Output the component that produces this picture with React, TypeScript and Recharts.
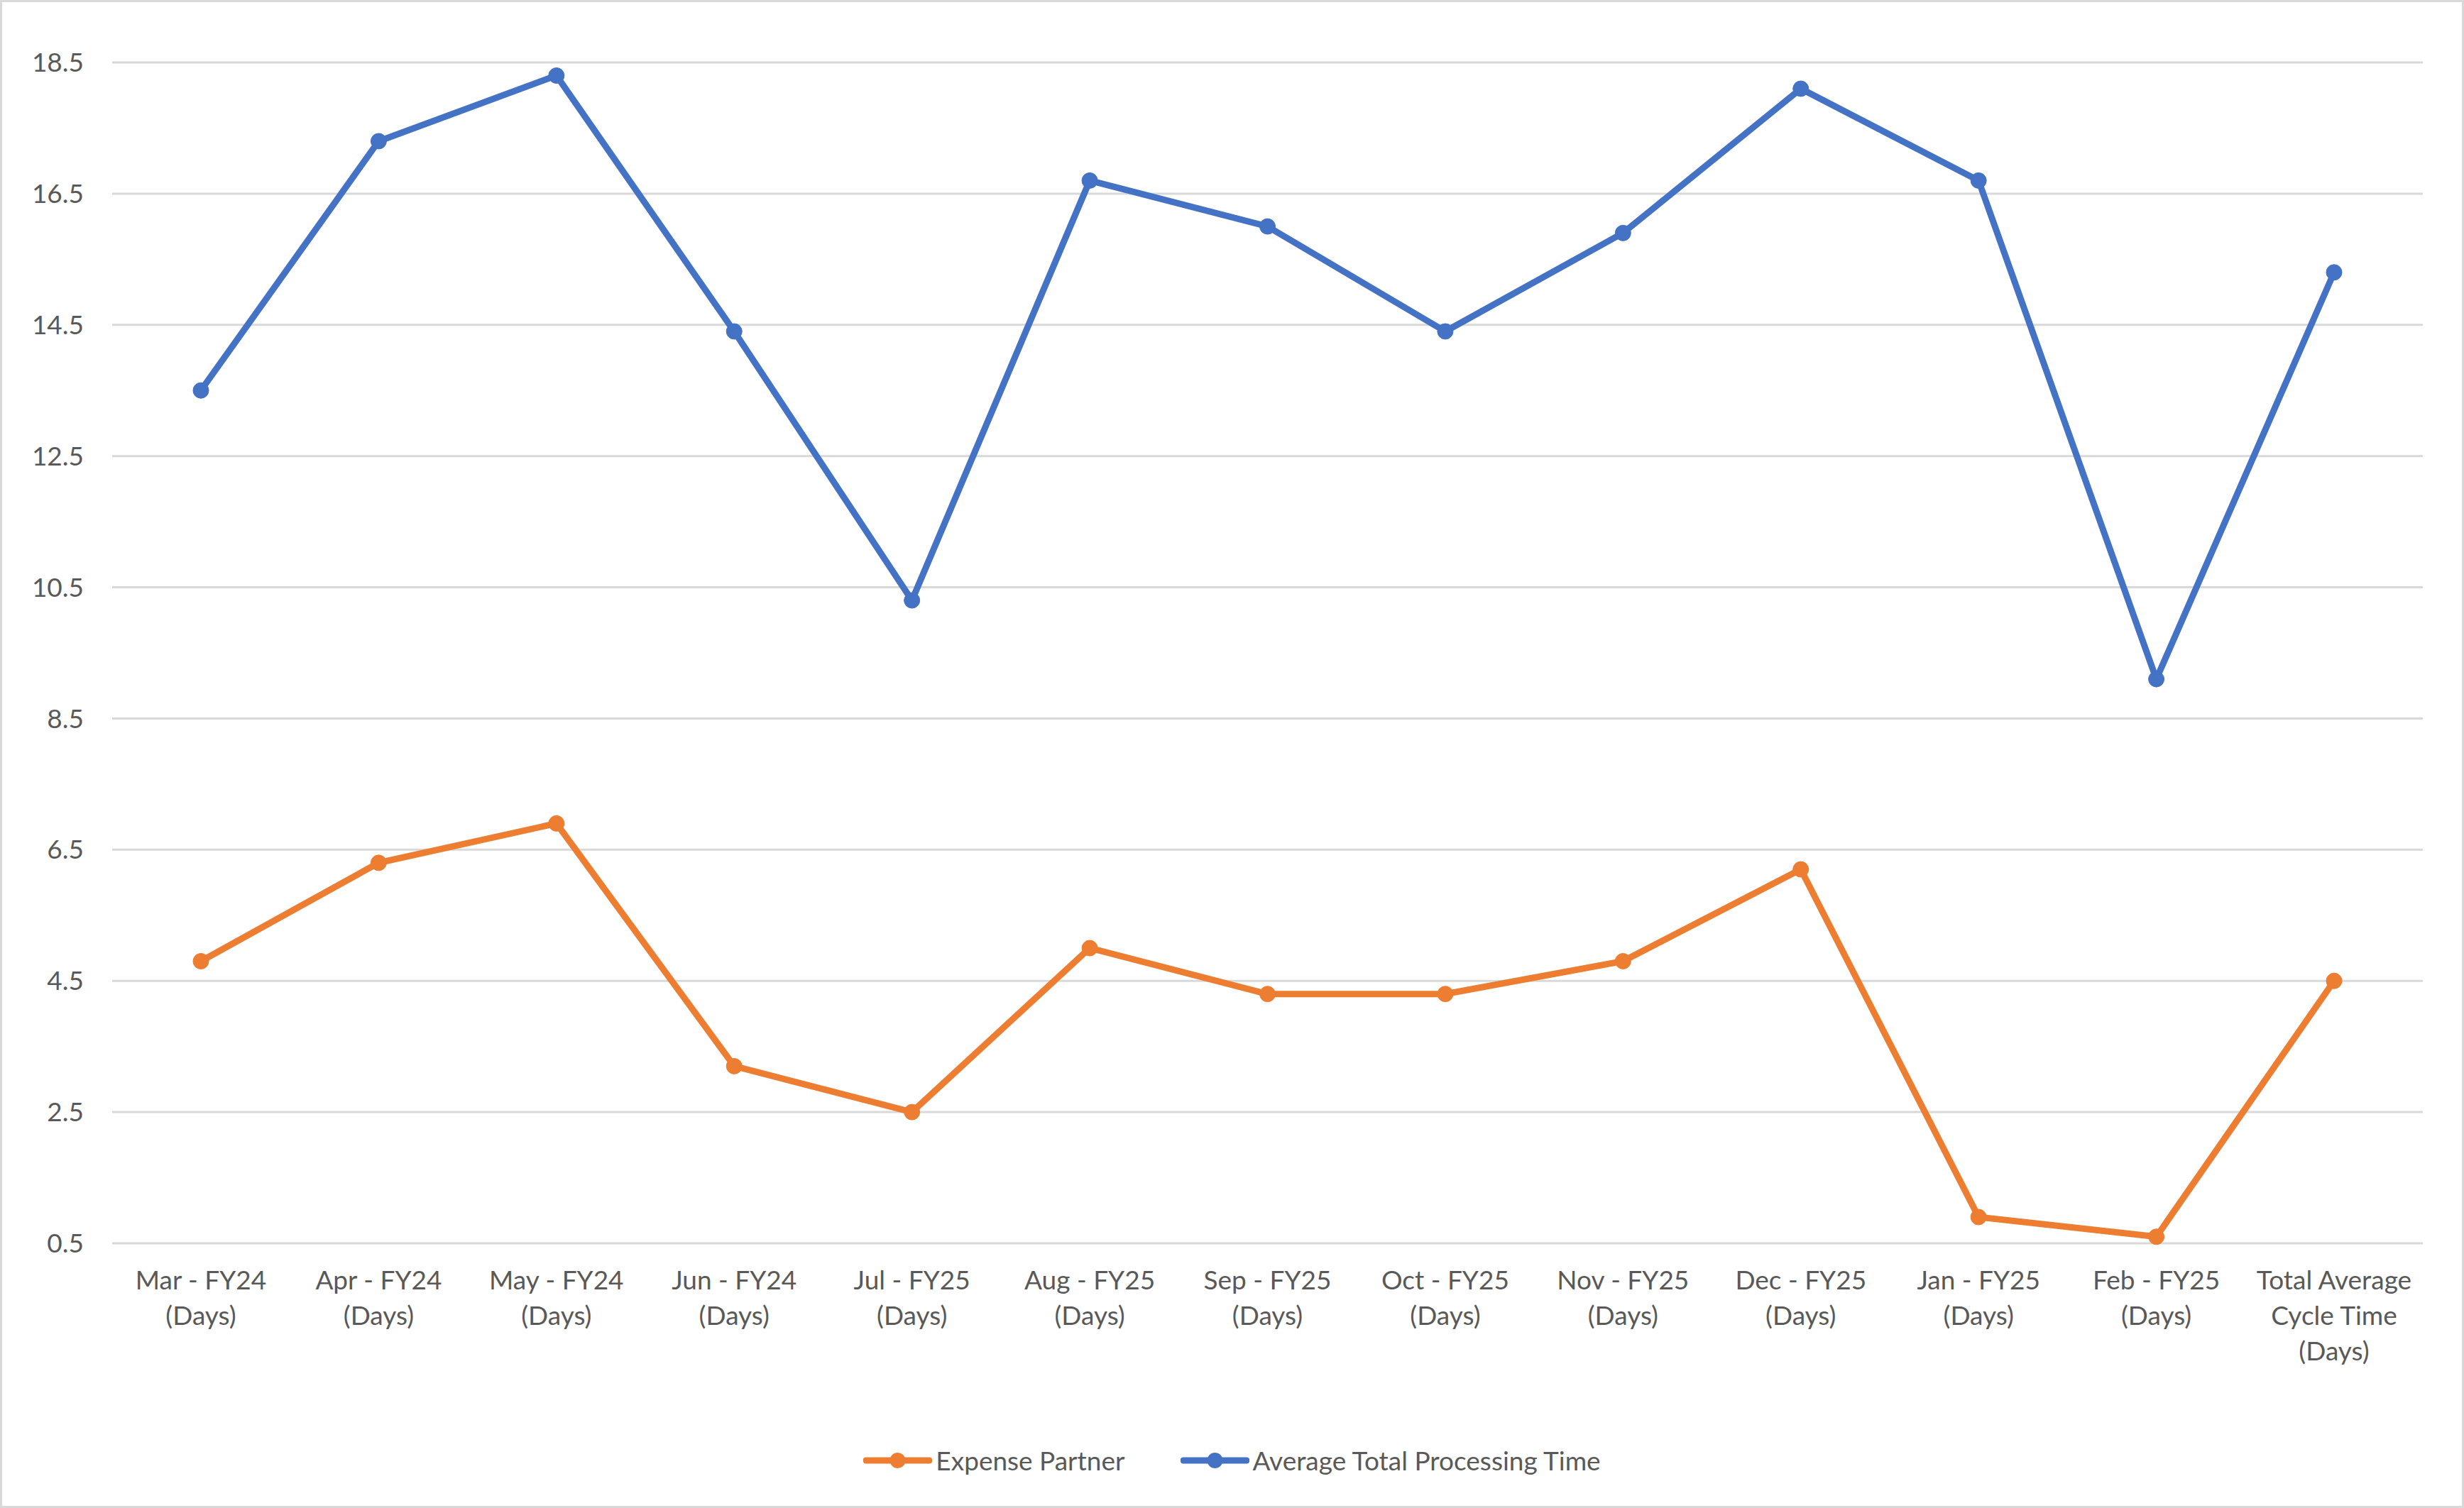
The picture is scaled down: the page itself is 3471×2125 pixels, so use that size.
import { LineChart, Line, XAxis, YAxis, CartesianGrid, Legend } from "recharts"

const categories = [
  "Mar - FY24\n(Days)",
  "Apr - FY24\n(Days)",
  "May - FY24\n(Days)",
  "Jun - FY24\n(Days)",
  "Jul - FY25\n(Days)",
  "Aug - FY25\n(Days)",
  "Sep - FY25\n(Days)",
  "Oct - FY25\n(Days)",
  "Nov - FY25\n(Days)",
  "Dec - FY25\n(Days)",
  "Jan - FY25\n(Days)",
  "Feb - FY25\n(Days)",
  "Total Average\nCycle Time\n(Days)",
]

const expensePartner = [4.8, 6.3, 6.9, 3.2, 2.5, 5.0, 4.3, 4.3, 4.8, 6.2, 0.9, 0.6, 4.5]
const avgProcessing = [13.5, 17.3, 18.3, 14.4, 10.3, 16.7, 16.0, 14.4, 15.9, 18.1, 16.7, 9.1, 15.3]

const yTicks = [0.5, 2.5, 4.5, 6.5, 8.5, 10.5, 12.5, 14.5, 16.5, 18.5]

const ORANGE = "#ED7D31"
const BLUE = "#4472C4"
const TEXT = "#595959"
const FONT = "Lato, 'Open Sans', sans-serif"

const data = categories.map((c, i) => ({
  name: c,
  expense: expensePartner[i],
  avg: avgProcessing[i],
}))

const series = [
  { key: "expense", name: "Expense Partner", color: ORANGE },
  { key: "avg", name: "Average Total Processing Time", color: BLUE },
]

// eslint-disable-next-line @typescript-eslint/no-explicit-any
function CategoryTick(props: any) {
  const { x, y, payload } = props
  const lines = String(payload.value).split("\n")
  return (
    <text x={x} y={y + 65} textAnchor="middle" fill={TEXT} fontSize={37} fontFamily={FONT}>
      {lines.map((l, i) => (
        <tspan key={i} x={x} dy={i === 0 ? 0 : 50}>
          {l}
        </tspan>
      ))}
    </text>
  )
}

function LegendContent() {
  return (
    <div
      style={{
        display: "flex",
        justifyContent: "center",
        alignItems: "center",
        gap: 78,
        fontFamily: FONT,
        fontSize: 37,
        color: TEXT,
      }}
    >
      {series.map((s) => (
        <div key={s.key} style={{ display: "flex", alignItems: "center" }}>
          <svg width={97} height={30}>
            <line x1={4} y1={15} x2={93} y2={15} stroke={s.color} strokeWidth={9} strokeLinecap="round" />
            <circle cx={48.5} cy={15} r={11} fill={s.color} />
          </svg>
          <span style={{ marginLeft: 5 }}>{s.name}</span>
        </div>
      ))}
    </div>
  )
}

export default function App() {
  return (
    <div style={{ position: "absolute", left: 0, top: 0, width: 3471, height: 2125, background: "#fff" }}>
      <LineChart
        width={3471}
        height={2125}
        data={data}
        margin={{ top: 88, right: 58, left: 0, bottom: 0 }}
      >
        <CartesianGrid vertical={false} stroke="#d9d9d9" strokeWidth={3} />
        <XAxis
          dataKey="name"
          height={373}
          axisLine={false}
          tickLine={false}
          tickSize={0}
          tickMargin={0}
          interval={0}
          padding={{ left: 125, right: 125 }}
          tick={<CategoryTick />}
        />
        <YAxis
          width={158}
          domain={[0.5, 18.5]}
          ticks={yTicks}
          axisLine={false}
          tickLine={false}
          tickSize={0}
          tickMargin={40}
          tick={{ fill: TEXT, fontSize: 37, fontFamily: FONT }}
          tickFormatter={(v: number) => v.toFixed(1)}
        />
        <Legend
          verticalAlign="middle"
          align="center"
          layout="horizontal"
          content={<LegendContent />}
          wrapperStyle={{ top: 2035, left: 0, width: 3471, height: 45 }}
        />
        {series.map((s) => (
          <Line
            key={s.key}
            dataKey={s.key}
            name={s.name}
            stroke={s.color}
            strokeWidth={9}
            dot={{ r: 11, fill: s.color, stroke: s.color, strokeWidth: 1 }}
            activeDot={false}
            isAnimationActive={false}
          />
        ))}
      </LineChart>
      <div
        style={{
          position: "absolute",
          left: 0,
          top: 0,
          width: 3471,
          height: 2125,
          boxSizing: "border-box",
          border: "3px solid #d9d9d9",
          pointerEvents: "none",
        }}
      />
    </div>
  )
}
